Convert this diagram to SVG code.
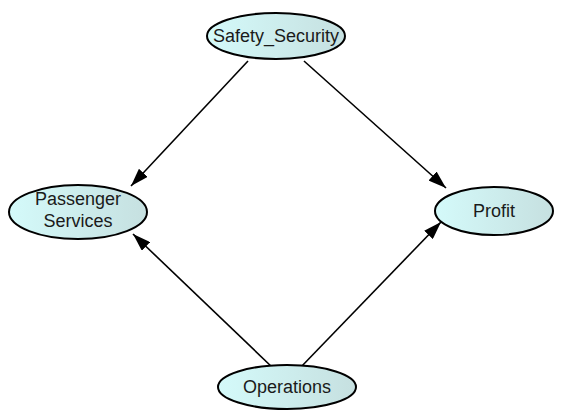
<svg xmlns="http://www.w3.org/2000/svg" width="567" height="412" viewBox="0 0 567 412">
  <style>
    .node ellipse { fill: url(#nodeFill); stroke: #000; stroke-width: 2; }
    .node text { font-family: "Liberation Sans", Arial, sans-serif; font-size: 18px; fill: #1a1a1a; text-anchor: middle; }
    .edges line { stroke: #000; stroke-width: 1.6; marker-end: url(#arrow); }
  </style>
  <defs>
    <linearGradient id="nodeFill" x1="0" y1="0" x2="1" y2="0">
      <stop offset="0" stop-color="#d4fafa"/>
      <stop offset="1" stop-color="#c6e0e0"/>
    </linearGradient>
    <marker id="arrow" viewBox="0 0 18 12" refX="18" refY="6" markerWidth="18" markerHeight="12" markerUnits="userSpaceOnUse" orient="auto">
      <path d="M0,0 L18,6 L0,12 Z" fill="#000"/>
    </marker>
  </defs>

  <g class="edges">
    <line x1="248" y1="61" x2="131" y2="186"/>
    <line x1="304" y1="61" x2="446" y2="188"/>
    <line x1="273" y1="368" x2="133" y2="234"/>
    <line x1="300" y1="368" x2="441" y2="222"/>
  </g>

  <g id="safety_security" class="node">
    <ellipse cx="276" cy="36" rx="69" ry="23"/>
    <text x="276" y="42">Safety_Security</text>
  </g>
  <g id="passenger_services" class="node">
    <ellipse cx="78" cy="212" rx="69" ry="27"/>
    <text x="78" y="205">Passenger</text>
    <text x="78" y="227">Services</text>
  </g>
  <g id="profit" class="node">
    <ellipse cx="494" cy="211" rx="59" ry="24"/>
    <text x="494" y="217">Profit</text>
  </g>
  <g id="operations" class="node">
    <ellipse cx="287" cy="387" rx="69" ry="22"/>
    <text x="287" y="393">Operations</text>
  </g>
</svg>
